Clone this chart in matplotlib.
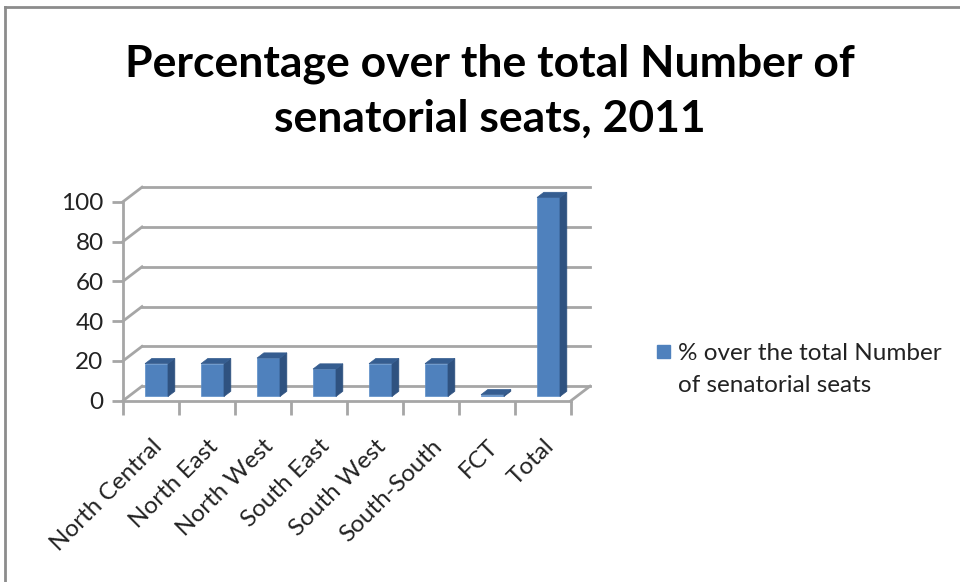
import matplotlib
matplotlib.use("Agg")
import matplotlib.pyplot as plt
from matplotlib.patches import Polygon
from matplotlib.lines import Line2D
import numpy as np

categories = ["North Central", "North East", "North West", "South East",
              "South West", "South-South", "FCT", "Total"]
values = [16.5, 16.5, 19.3, 13.8, 16.5, 16.5, 0.9, 100.0]
yticks = [0, 20, 40, 60, 80, 100]
series_name = "% over the total Number\nof senatorial seats"
title = "Percentage over the total Number of\nsenatorial seats, 2011"

FONT = "Lato"
W, H = 960, 582
fig = plt.figure(figsize=(W / 100, H / 100), dpi=100)

# plot front plane in pixels
x0, x1 = 123, 571
y0, y1 = 400.7, 201.7
ax = fig.add_axes([x0 / W, (H - y0) / H, (x1 - x0) / W, (y0 - y1) / H])
n = len(categories)
ax.set_xlim(-0.5, n - 0.5)
ax.set_ylim(0, 100)
ax.patch.set_alpha(0)

ppx = (x1 - x0) / n          # px per category
ppy = (y0 - y1) / 100.0      # px per unit
DX = 19.0 / ppx
DY = 14.5 / ppy
grid_c = "#A6A6A6"
lw = 2.0

# back wall grid lines + left wall diagonals
for v in yticks:
    ax.add_line(Line2D([-0.5 + DX, n - 0.5 + DX], [v + DY, v + DY], color=grid_c,
                       lw=lw, clip_on=False, zorder=1))
    ax.add_line(Line2D([-0.5, -0.5 + DX], [v, v + DY], color=grid_c,
                       lw=lw, clip_on=False, zorder=1))
# floor right edge
ax.add_line(Line2D([n - 0.5, n - 0.5 + DX], [0, DY], color=grid_c, lw=lw,
                   clip_on=False, zorder=1))

# bars
f0, f1 = 0.29, 0.65
bw = 0.41
front_c = "#4F81BD"
side_c = "#2F5280"
top_c = "#355D90"
xs = np.arange(n)
fx = xs + f0 * DX
fy = f0 * DY
ax.bar(fx, values, width=bw, bottom=fy, color=front_c, edgecolor="#5B8DC8",
       linewidth=0.5, zorder=3, clip_on=False)
for xi, v in zip(fx, values):
    l, r = xi - bw / 2, xi + bw / 2
    ddx = (f1 - f0) * DX
    ddy = (f1 - f0) * DY
    side = Polygon([(r, fy), (r + ddx, fy + ddy), (r + ddx, fy + v + ddy), (r, fy + v)],
                   closed=True, facecolor=side_c, edgecolor=side_c, lw=0.5,
                   zorder=3, clip_on=False)
    top = Polygon([(l, fy + v), (r, fy + v), (r + ddx, fy + v + ddy), (l + ddx, fy + v + ddy)],
                  closed=True, facecolor=top_c, edgecolor=top_c, lw=0.5,
                  zorder=3, clip_on=False)
    ax.add_patch(side)
    ax.add_patch(top)

# spines
for s in ["top", "right"]:
    ax.spines[s].set_visible(False)
for s in ["left", "bottom"]:
    ax.spines[s].set_color(grid_c)
    ax.spines[s].set_linewidth(lw)

ax.set_yticks(yticks)
ax.set_yticklabels([str(t) for t in yticks], fontsize=17.5, family=FONT, color="#222222")
ax.tick_params(axis="y", length=8, width=lw, color=grid_c, pad=6)

ax.set_xticks(xs)
ax.set_xticklabels(categories, rotation=45, ha="right", rotation_mode="anchor",
                   fontsize=17.5, family=FONT, color="#222222")
ax.tick_params(axis="x", which="major", length=0, pad=25)
ax.set_xticks(np.arange(-0.5, n, 1.0), minor=True)
ax.tick_params(axis="x", which="minor", length=10, width=lw, color=grid_c)

# title
fig.text(490 / W, 1 - 91 / H, title, ha="center", va="center", fontsize=32,
         fontweight="bold", family=FONT, color="#000000", linespacing=1.42)

# legend
fig.patches.append(Polygon([(657 / W, 1 - 345 / H), (670 / W, 1 - 345 / H),
                            (670 / W, 1 - 358 / H), (657 / W, 1 - 358 / H)],
                           closed=True, transform=fig.transFigure,
                           facecolor=front_c, edgecolor=front_c))
fig.text(678 / W, 1 - 353 / H, series_name.split("\n")[0], ha="left", va="center",
         fontsize=17.5, family=FONT, color="#222222")
fig.text(678 / W, 1 - 385 / H, series_name.split("\n")[1], ha="left", va="center",
         fontsize=17.5, family=FONT, color="#222222")

# outer border (top and left visible)
fig.add_artist(Line2D([5 / W, 5 / W], [0, 1 - 7 / H], color="#8C8C8C", lw=2,
                      transform=fig.transFigure))
fig.add_artist(Line2D([5 / W, 1], [1 - 7 / H, 1 - 7 / H], color="#8C8C8C", lw=2,
                      transform=fig.transFigure))

fig.savefig("out.png", dpi=100)
